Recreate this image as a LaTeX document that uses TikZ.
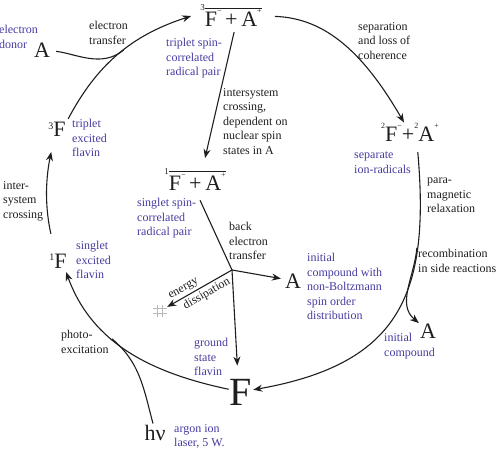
\documentclass[tikz,border=0pt]{standalone}
\usepackage{fontspec}
\setmainfont{Liberation Serif}
\usepackage{xcolor}
\usetikzlibrary{arrows.meta}
\definecolor{lblblue}{RGB}{70,60,160}
\definecolor{ink}{RGB}{30,30,30}
\newcommand{\up}[1]{\raisebox{13pt}{\fontsize{8}{8}\selectfont #1}}
\newcommand{\spin}[1]{\raisebox{7.5pt}{\fontsize{10}{10}\selectfont #1}}
\newcommand{\pre}[1]{\raisebox{16pt}{\fontsize{9}{9}\selectfont #1}}
\newcommand{\pair}[1]{$\overline{\hbox{#1}}$}
\tikzset{
  big/.style={inner sep=1pt, anchor=base, font=\fontsize{22}{26}\selectfont, text=ink},
  blu/.style={inner sep=0pt, anchor=north west, align=left, text=lblblue, font=\fontsize{12}{14.5}\selectfont},
  blk/.style={blu, text=ink},
  ln/.style={line width=1.1pt, draw=ink},
  arr/.style={ln, -{Stealth[length=9pt,width=7pt]}},
}

\begin{document}
\begin{tikzpicture}[x=1pt,y=1pt]
\useasboundingbox (0,0) rectangle (500,-449);

% species
\node[big] (tri) at (231,-27) {\pre{3}\pair{F\up{−}\,+\,A\up{+}}};
\node[big] (sing) at (195,-190) {\pre{1}\pair{F\up{−}\,+\,A\up{+}}};
\node[big] (sep) at (410,-142) {\up{2}F\up{−}+\up{2}A\up{+}};
\node[big] (donor) at (42,-58) {A};
\node[big] (F3) at (57,-137) {\spin{3}F};
\node[big] (F1) at (58,-268) {\spin{1}F};
\node[big, font=\fontsize{40}{44}\selectfont] (F0) at (241,-405) {F};
\node[big] (hnu) at (155,-440) {hν};
\node[big] (Aback) at (293,-288) {A};
\node[big] (Arec) at (428,-338) {A};
\node[minimum width=14pt, minimum height=12pt, inner sep=0pt] (heat) at (160,-311) {};
\coordinate (jn) at (232,-270);

% blue captions
\node[blu] (donorlbl) at (-1,-25) {electron\\donor};
\node[blu] (trilbl) at (166,-38) {triplet spin-\\correlated\\radical pair};
\node[blu] (F3lbl) at (72,-119) {triplet\\excited\\flavin};
\node[blu] (F1lbl) at (76,-241) {singlet\\excited\\flavin};
\node[blu] (singlbl) at (137,-198) {singlet spin-\\correlated\\radical pair};
\node[blu] (seplbl) at (354,-152) {separate\\ion-radicals};
\node[blu] (Abacklbl) at (307,-253) {initial\\compound with\\non-Boltzmann\\spin order\\distribution};
\node[blu] (Areclbl) at (384,-333) {initial\\compound};
\node[blu] (F0lbl) at (194,-338) {ground\\state\\flavin};
\node[blu] (hnulbl) at (174,-424) {argon ion\\laser, 5 W.};

% process labels
\node[blk] (etlbl) at (89,-21) {electron\\transfer};
\node[blk] (seplbl2) at (358,-22) {separation\\and loss of\\coherence};
\node[blk] (isclbl) at (223,-88) {intersystem\\crossing,\\dependent on\\nuclear spin\\states in A};
\node[blk] (isc2lbl) at (3,-181) {inter-\\system\\crossing};
\node[blk] (relaxlbl) at (427,-178) {para-\\magnetic\\relaxation};
\node[blk] (reclbl) at (418,-249) {recombination\\in side reactions};
\node[blk] (betlbl) at (229,-222) {back\\electron\\transfer};
\node[blk] (phlbl) at (61,-330) {photo-\\excitation};

% cycle
\draw[arr, shorten <=3pt] (F3.north east) to[out=62,in=198] coordinate[pos=.55] (et) ([xshift=-8pt]tri.west);
\draw[ln, shorten <=5pt] (donor.east) .. controls +(25,-3) and +(-22,-18) .. (et);
\draw[arr, shorten <=12pt] (tri.east) .. controls +(63,-2) and +(-40,69) .. ([xshift=-6pt]sep.north);
\draw[arr, shorten <=9pt] ([xshift=7pt]sep.south) to[out=-85,in=10,looseness=1.3] coordinate[pos=.27] (br) (F0);
\draw[arr] (br) to[out=-95,in=140] (Arec);
\draw[arr, shorten >=3pt] (F0) to[out=168,in=-70] coordinate[pos=.6] (pe) (F1.-50);
\draw[ln] ([xshift=-2pt]hnu.north) to[out=105,in=-40] (pe);
\draw[arr, shorten <=19pt, shorten >=14pt] ([xshift=-3pt]F1.north) to[bend left=12] ([xshift=-3pt]F3.south);

% inner branch
\draw[arr, shorten <=4pt, shorten >=9pt] ([xshift=4pt]tri.south) -- ([xshift=8pt]sing.north);
\draw[ln] ([shift={(5pt,-9pt)}]sing.south) -- (jn);
\draw[arr, shorten >=3pt] (jn) -- (Aback);
\draw[arr, shorten >=12pt] (jn) -- ([xshift=-3pt]F0.north);
\draw[ln, {Stealth[length=9pt,width=7pt]}-] (heat) -- (jn)
  node[pos=.31, sloped, above, inner sep=2.2pt, text=ink, font=\fontsize{12}{14}\selectfont] (enlbl) {energy}
  node[pos=.55, sloped, below, inner sep=2.2pt, text=ink, font=\fontsize{12}{14}\selectfont] (dislbl) {dissipation};
\draw[gray!55, line width=0.6pt] ([xshift=-2.5pt]heat.north) -- ([xshift=-2.5pt]heat.south)
  ([xshift=2.5pt]heat.north) -- ([xshift=2.5pt]heat.south)
  ([yshift=2.5pt]heat.west) -- ([yshift=2.5pt]heat.east)
  ([yshift=-2.5pt]heat.west) -- ([yshift=-2.5pt]heat.east);

\end{tikzpicture}
\end{document}
